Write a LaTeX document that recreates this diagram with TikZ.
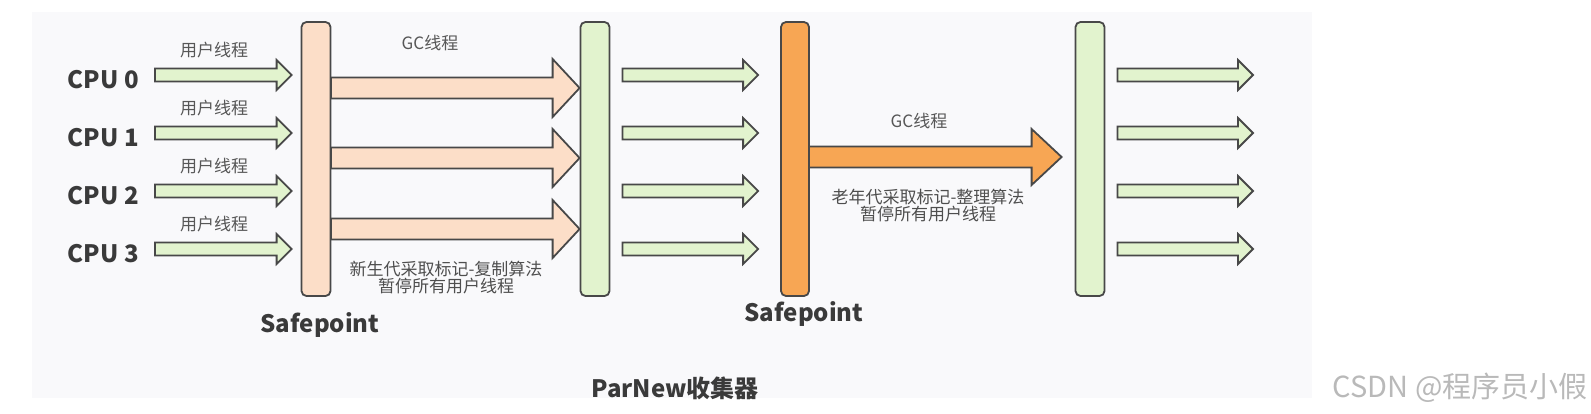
\documentclass[tikz,border=0pt]{standalone}
\usepackage{fontspec}
\setmainfont{Noto Sans CJK SC}
\usetikzlibrary{positioning, calc}
\definecolor{edge}{RGB}{72,72,72}
\definecolor{peach}{RGB}{252,222,200}
\definecolor{leaf}{RGB}{226,243,206}
\definecolor{amber}{RGB}{247,166,84}
\definecolor{paper}{RGB}{249,249,251}
\definecolor{ink}{RGB}{58,58,58}
\definecolor{mark}{RGB}{185,185,185}
\newcommand{\fs}[1]{\fontsize{#1}{#1}\selectfont}
% horizontal block arrow: style, from, to, half shaft, half head, head length
\newcommand{\blockarrow}[6]{%
  \path[#1] let \p1=#2, \p2=#3 in
    (\x1,\y1+#4) -- (\x2-#6,\y1+#4) -- (\x2-#6,\y1+#5) -- (\x2,\y1)
    -- (\x2-#6,\y1-#5) -- (\x2-#6,\y1-#4) -- (\x1,\y1-#4) -- cycle;}

\begin{document}
\begin{tikzpicture}[x=1pt, y=-1pt, font=\fs{17},
  bar/.style={draw=edge, line width=1.8pt, rounded corners=5pt, minimum width=29pt, minimum height=274pt, inner sep=0pt},
  thinarr/.style={draw=edge, line width=1.8pt, fill=leaf, line join=miter},
  widearr/.style={draw=edge, line width=1.8pt, fill=#1, line join=miter},
  big/.style={font=\fs{24}\bfseries, text=ink, inner sep=0pt},
  tag/.style={font=\fs{17}, text=ink!85, inner sep=0pt},
  note/.style={font=\fs{17}, text=ink!90, inner sep=0pt, align=center}]

\useasboundingbox (0,0) rectangle (1591,413);
\fill[paper] (32,12) rectangle (1312,398);

% safepoints and phases
\node[bar, fill=peach] (sp1) at (316,159) {};
\node[bar, fill=leaf] (run1) at (595,159) {};
\node[bar, fill=amber, minimum width=28pt] (sp2) at (795,159) {};
\node[bar, fill=leaf] (run2) at (1090,159) {};

\foreach \i/\y in {0/75, 1/133, 2/191, 3/249} {
  \coordinate (in\i) at (155,\y);
  \coordinate (out\i) at (1253,\y);
  \node[big, anchor=east] (cpu\i) at (139,\y+5) {CPU \i};
  \node[tag] (user\i) at (214,\y-25) {用户线程};
  \blockarrow{thinarr}{(in\i)}{($(sp1.west |- in\i)+(-9,0)$)}{6.5pt}{15pt}{15pt}
  \blockarrow{thinarr}{($(run1.east |- in\i)+(12,0)$)}{($(sp2.west |- in\i)+(-22,0)$)}{6.5pt}{15pt}{15pt}
  \blockarrow{thinarr}{($(run2.east |- in\i)+(12,0)$)}{(out\i)}{6.5pt}{15pt}{15pt}
}

% young generation GC threads
\foreach \i/\y in {0/88, 1/158, 2/229} {
  \coordinate (gc\i) at (331,\y);
  \blockarrow{widearr=peach}{(gc\i)}{(run1.west |- gc\i)}{10.5pt}{29pt}{27pt}
}
% old generation GC thread
\coordinate (old) at (809,157);
\blockarrow{widearr=amber}{(old)}{($(run2.west |- old)+(-13,0)$)}{10.5pt}{28pt}{30pt}

\node[tag] (gcy) at (430,43) {GC线程};
\node[note] (young) at (446,278) {新生代采取标记-复制算法\\暂停所有用户线程};
\node[tag] (gco) at (919,121) {GC线程};
\node[note] (tenured) at (928,206) {老年代采取标记-整理算法\\暂停所有用户线程};

\node[big] (safe1) at (320,325) {Safepoint};
\node[big] (safe2) at (804,314) {Safepoint};
\node[big] (title) at (675,388) {ParNew收集器};
\node[font=\fs{29}, text=mark, inner sep=0pt, anchor=east] (credit) at (1588,388) {CSDN @程序员小假};
\end{tikzpicture}
\end{document}
